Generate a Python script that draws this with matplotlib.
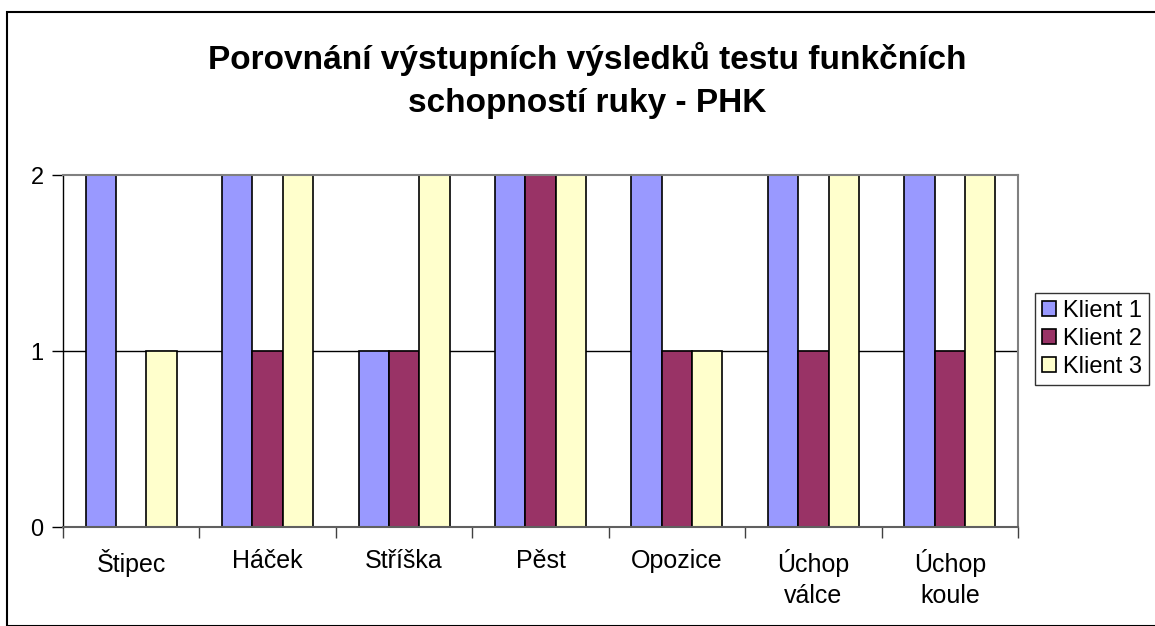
import numpy as np
import matplotlib.pyplot as plt
from matplotlib.patches import Rectangle

# data
categories = ["Štipec", "Háček", "Stříška", "Pěst", "Opozice", "Úchop\nválce", "Úchop\nkoule"]
klient1 = [2, 2, 1, 2, 2, 2, 2]
klient2 = [0, 1, 1, 2, 1, 1, 1]
klient3 = [1, 2, 2, 2, 1, 2, 2]
series_names = ["Klient 1", "Klient 2", "Klient 3"]
colors = ["#9999FF", "#993366", "#FFFFCC"]

plt.rcParams['font.family'] = ['Liberation Sans', 'DejaVu Sans']

W, H = 1155, 626
fig = plt.figure(figsize=(W / 100, H / 100), dpi=100)

# outer chart border (Excel chart area)
fig.patches.append(Rectangle((7 / W, 0), 1.5, 1 - 12 / H, transform=fig.transFigure,
                             fill=False, edgecolor="black", linewidth=1.5))

ax = fig.add_axes([63 / W, 1 - 527 / H, (1018 - 63) / W, (527 - 175) / H])

x = np.arange(len(categories))
bw = 1 / 4.5  # gap width 150%
for i, (vals, name, col) in enumerate(zip([klient1, klient2, klient3], series_names, colors)):
    ax.bar(x + (i - 1) * bw, vals, bw, color=col, edgecolor="black", linewidth=1.2, label=name, zorder=2)

ax.set_xlim(-0.5, len(categories) - 0.5)
ax.set_ylim(0, 2)
ax.set_yticks([0, 1, 2])
ax.set_yticklabels(["0", "1", "2"], fontsize=17)
ax.axhline(1, color="black", linewidth=1, zorder=1)

# category labels between tick marks
ax.set_xticks(np.arange(len(categories) + 1) - 0.5)
ax.set_xticklabels([])
ax.set_xticks(x, minor=True)
ax.set_xticklabels(categories, minor=True, fontsize=18, linespacing=1.35)
ax.tick_params(axis="x", which="minor", length=0, pad=16)
ax.tick_params(axis="x", which="major", length=8, color="#404040", width=1)
ax.tick_params(axis="y", length=8, width=1, pad=6)

for s in ["top", "right"]:
    ax.spines[s].set_color("#808080")
    ax.spines[s].set_linewidth(1.5)
ax.spines["bottom"].set_color("#606060")
ax.spines["bottom"].set_linewidth(1.5)
ax.spines["left"].set_color("black")
ax.spines["left"].set_linewidth(1)
for sp in ax.spines.values():
    sp.set_zorder(4)

fig.text(587 / W, 1 - 80 / H, "Porovnání výstupních výsledků testu funkčních\nschopností ruky - PHK",
         ha="center", va="center", fontsize=24, fontweight="bold", linespacing=1.5)

leg = ax.legend(loc="upper left", bbox_to_anchor=(1035 / W, 1 - 293 / H), bbox_transform=fig.transFigure,
                fontsize=17, frameon=True, fancybox=False, edgecolor="black", handlelength=0.6,
                handleheight=0.6, handletextpad=0.3, labelspacing=0.25, borderpad=0.3, borderaxespad=0)
leg.get_frame().set_linewidth(1)

fig.savefig("out.png", dpi=100)
